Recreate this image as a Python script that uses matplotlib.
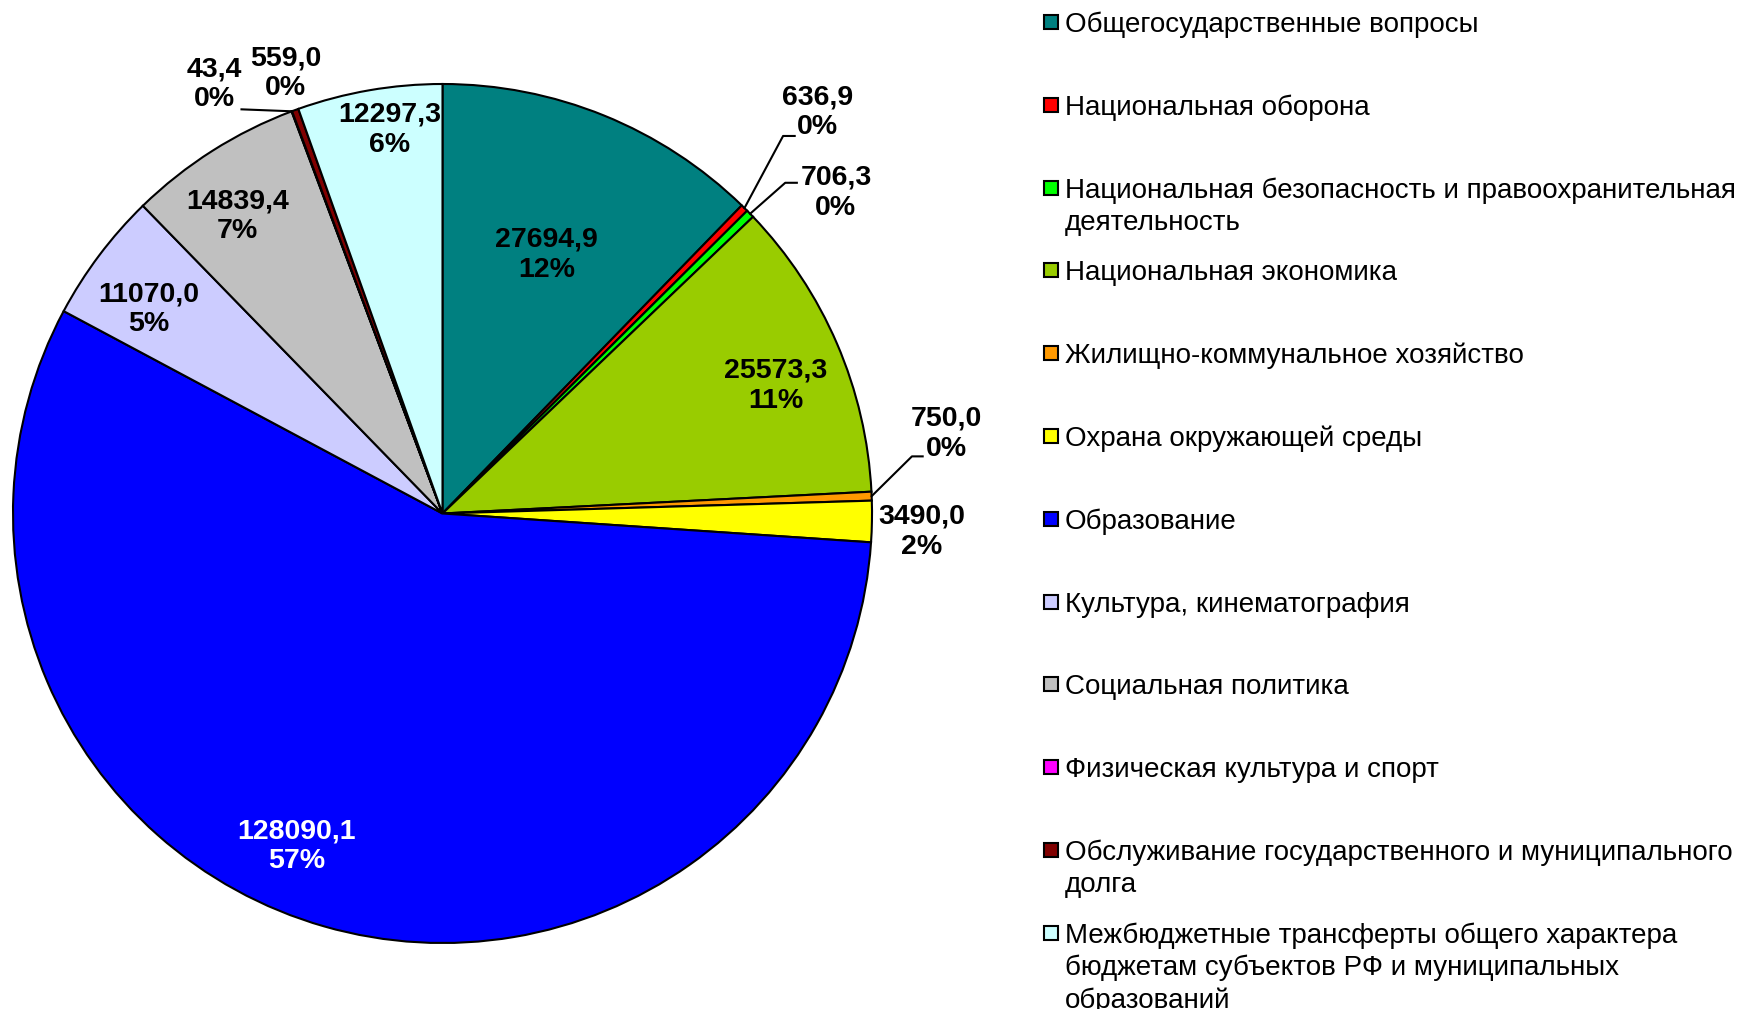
import matplotlib
matplotlib.use("Agg")
from matplotlib import pyplot as plt
from matplotlib.patches import Rectangle
import numpy as np

plt.rcParams['font.family'] = ['Liberation Sans', 'DejaVu Sans']

categories = [
    "Общегосударственные вопросы",
    "Национальная оборона",
    "Национальная безопасность и правоохранительная\nдеятельность",
    "Национальная экономика",
    "Жилищно-коммунальное хозяйство",
    "Охрана окружающей среды",
    "Образование",
    "Культура, кинематография",
    "Социальная политика",
    "Физическая культура и спорт",
    "Обслуживание государственного и муниципального\nдолга",
    "Межбюджетные трансферты общего характера\nбюджетам субъектов РФ и муниципальных\nобразований",
]
values = [27694.9, 636.9, 706.3, 25573.3, 750.0, 3490.0,
          128090.1, 11070.0, 14839.4, 43.4, 559.0, 12297.3]
percents = [12, 0, 0, 11, 0, 2, 57, 5, 7, 0, 0, 6]
colors = ['#008080', '#FF0000', '#00FF00', '#99CC00', '#FF9900', '#FFFF00',
          '#0000FF', '#CCCCFF', '#C0C0C0', '#FF00FF', '#800000', '#CCFFFF']

# label centres (pie radius = 1) and leader lines (elbow, end) for small slices
label_pos = [(0.243, 0.602), (0.874, 0.934), (0.916, 0.747), (0.776, 0.298),
             (1.173, 0.186), (1.116, -0.043), (-0.339, -0.775), (-0.685, 0.476),
             (-0.477, 0.692), (-0.532, 0.999), (-0.365, 1.025), (-0.123, 0.893)]
leaders = {1: [(0.793, 0.879), (0.820, 0.879)],
           2: [(0.798, 0.770), (0.825, 0.770)],
           4: [(1.093, 0.133), (1.118, 0.133)],
           9: [(-0.468, 0.941)]}

W, H = 1750, 1009
fig = plt.figure(figsize=(W / 100, H / 100), dpi=100)
ax = fig.add_axes([13 / W, 66 / H, 859 / W, 859 / H])

wedges, _ = ax.pie(values, colors=colors, startangle=90, counterclock=False,
                   radius=1, wedgeprops=dict(edgecolor='black', linewidth=1.5))
ax.set_xlim(-1, 1)
ax.set_ylim(-1, 1)
ax.axis('off')

for i, (v, p) in enumerate(zip(values, percents)):
    txt = f"{v:.1f}".replace('.', ',') + f"\n{p}%"
    x, y = label_pos[i]
    ax.text(x, y, txt, ha='center', va='center', multialignment='center',
            fontsize=20.5, fontweight='bold', linespacing=1.2,
            color='white' if i == 6 else 'black', clip_on=False)
    if i in leaders:
        w = wedges[i]
        mid = np.deg2rad((w.theta1 + w.theta2) / 2)
        pts = [(np.cos(mid), np.sin(mid))] + leaders[i]
        xs, ys = zip(*pts)
        ax.plot(xs, ys, color='black', lw=1.5, clip_on=False)

# legend in fixed slots like the original
for i, (name, c) in enumerate(zip(categories, colors)):
    top = 15 + 82.8 * i
    fig.add_artist(Rectangle((1044 / W, 1 - (top + 14) / H), 14 / W, 14 / H,
                             facecolor=c, edgecolor='black', lw=1.5,
                             transform=fig.transFigure))
    for j, line in enumerate(name.split('\n')):
        base = 32 + 82.8 * i + 32.4 * j
        fig.text(1065 / W, 1 - base / H, line, ha='left', va='baseline',
                 fontsize=20)

fig.savefig("out.png", dpi=100, facecolor='white')
